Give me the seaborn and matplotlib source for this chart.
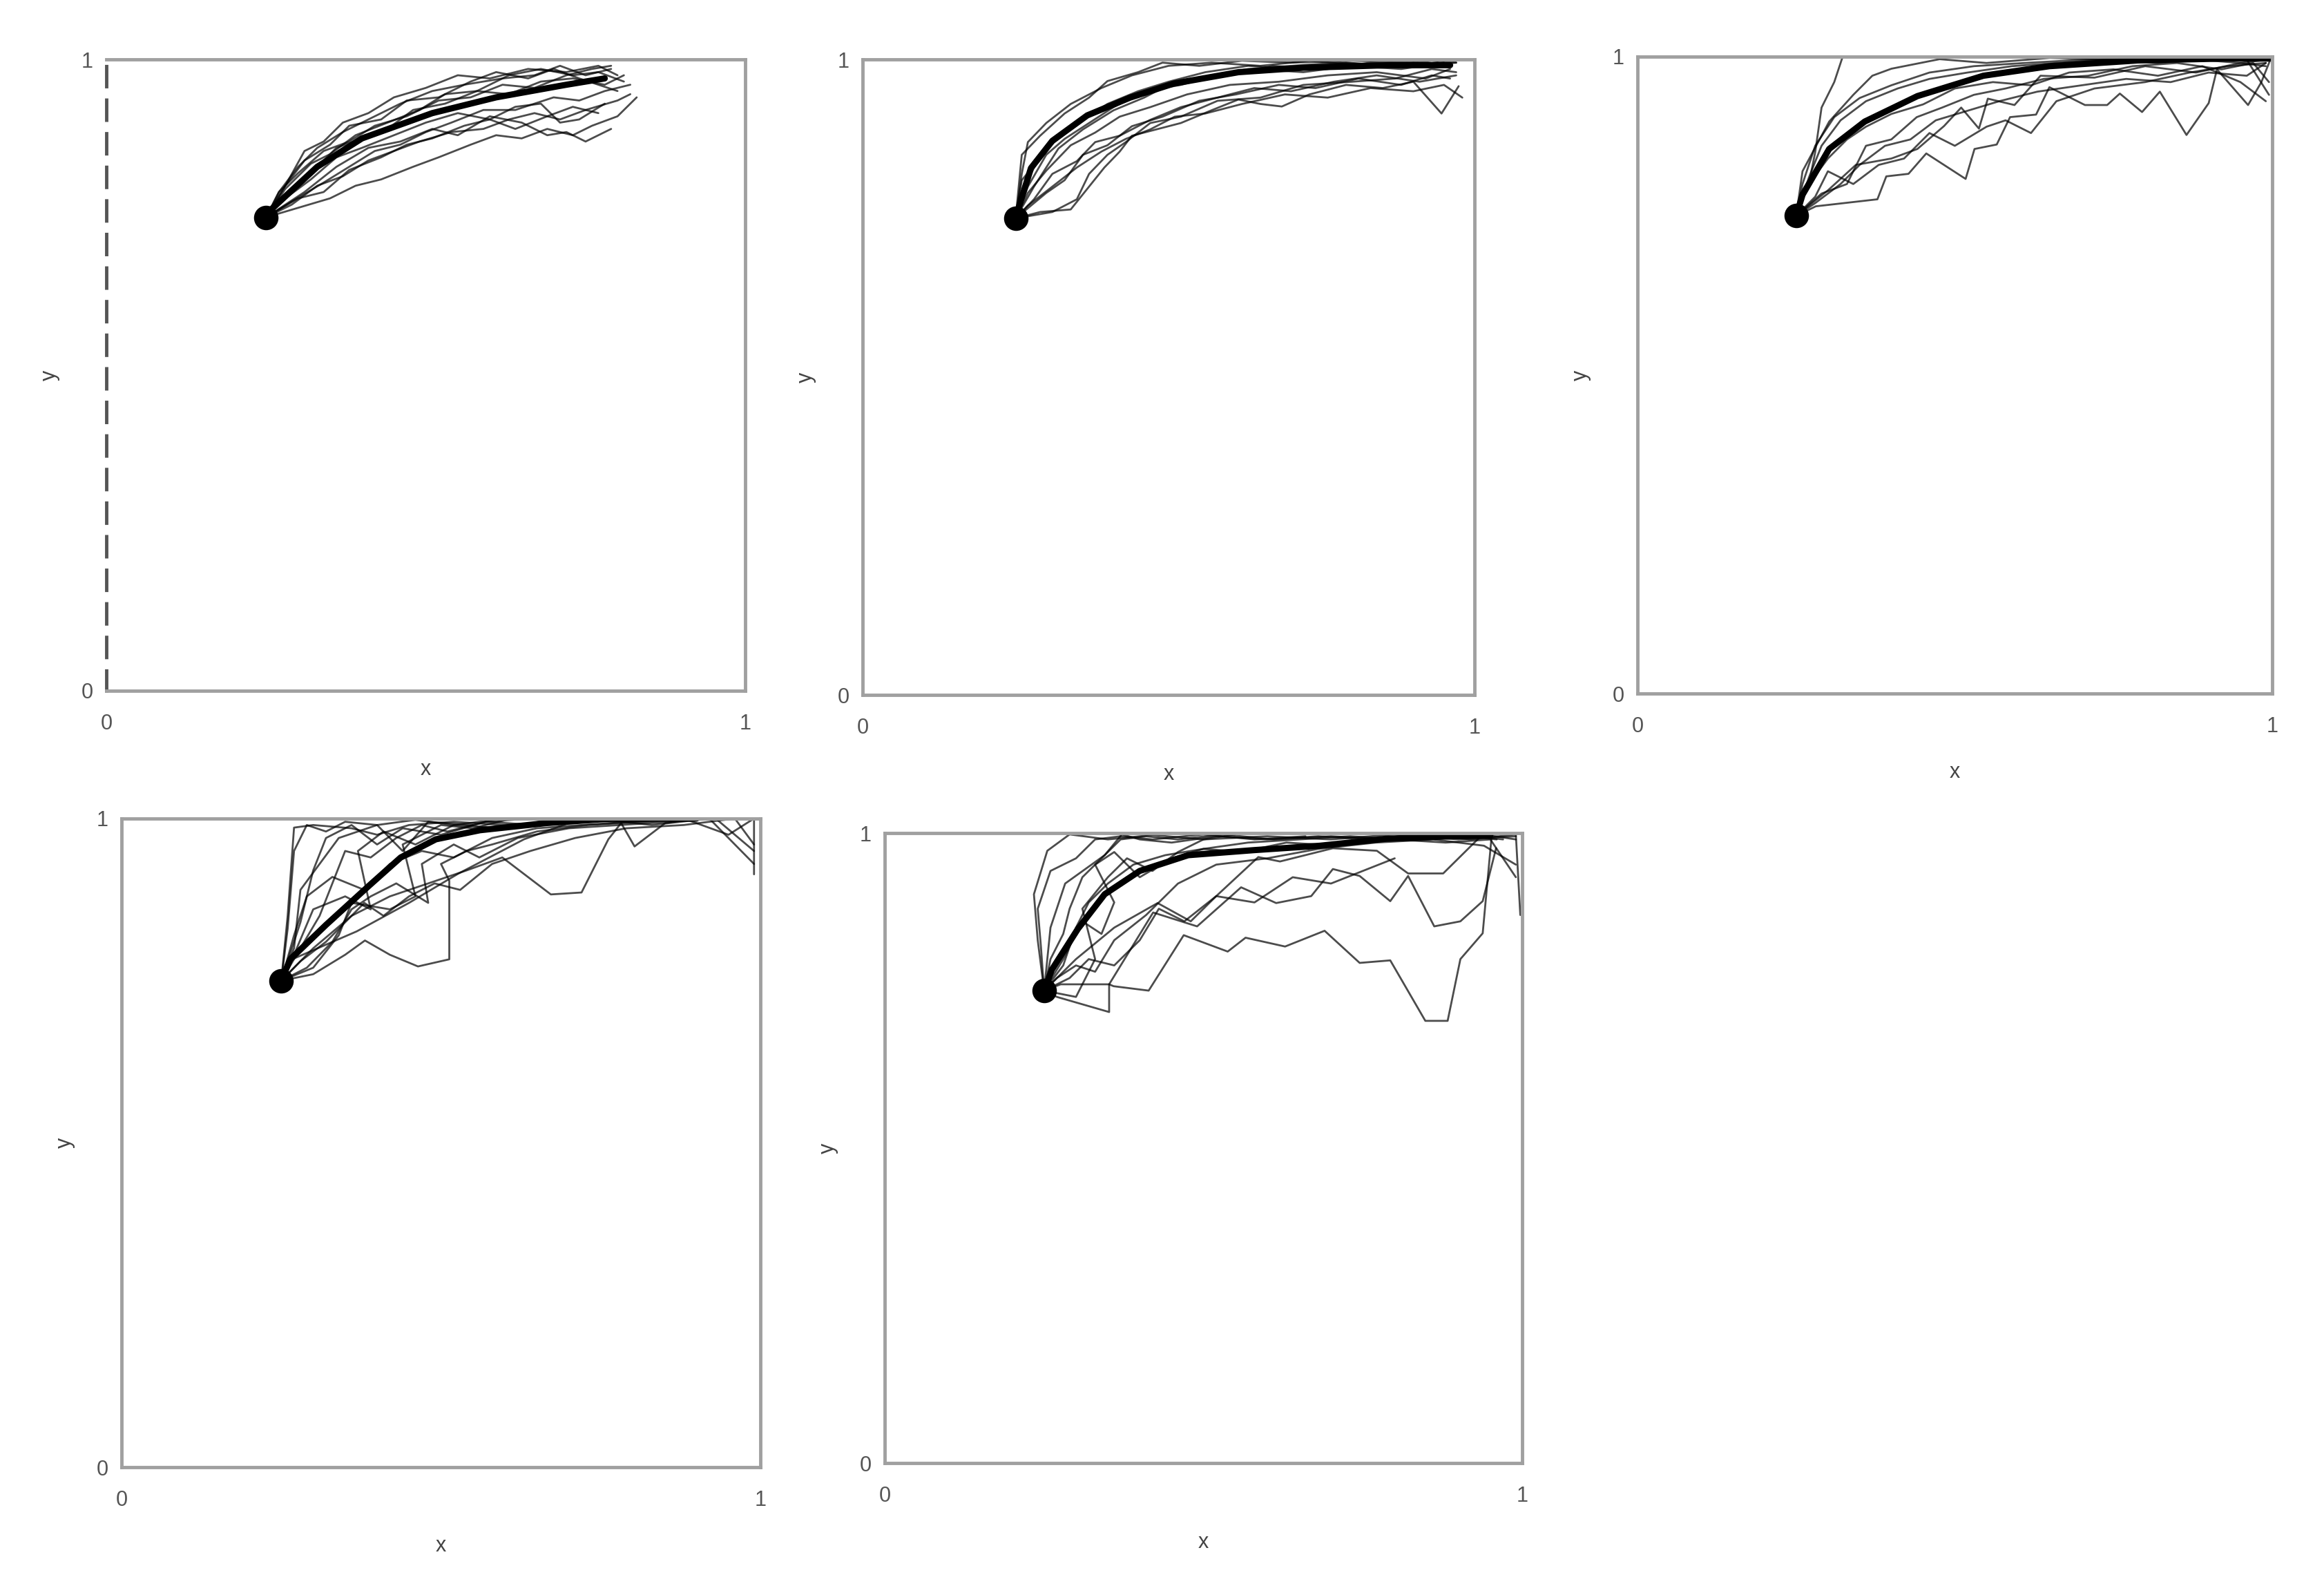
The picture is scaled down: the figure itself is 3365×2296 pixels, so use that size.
import pandas as pd
import matplotlib.pyplot as plt
import seaborn as sns

sns.set_theme(style="white")
plt.rcParams['font.family'] = ['Liberation Sans', 'DejaVu Sans']

# start point shared by every panel
start_x = 0.25
start_y = 0.75

# ---- panel 1 ----
p1_mean_x = [0.25, 0.33, 0.40, 0.51, 0.61, 0.72, 0.78]
p1_mean_y = [0.755, 0.83, 0.875, 0.915, 0.94, 0.96, 0.97]
p1_x = [
    [0.25, 0.28, 0.31, 0.34, 0.37, 0.41, 0.45, 0.50, 0.55, 0.60, 0.66, 0.72, 0.77, 0.80],
    [0.25, 0.29, 0.33, 0.36, 0.40, 0.44, 0.48, 0.53, 0.58, 0.63, 0.68, 0.73, 0.78, 0.81],
    [0.25, 0.30, 0.35, 0.39, 0.43, 0.48, 0.52, 0.57, 0.61, 0.65, 0.69, 0.73, 0.76, 0.80, 0.83],
    [0.25, 0.28, 0.32, 0.36, 0.40, 0.45, 0.50, 0.55, 0.60, 0.64, 0.68, 0.71, 0.74, 0.78],
    [0.25, 0.27, 0.30, 0.33, 0.37, 0.42, 0.46, 0.51, 0.56, 0.62, 0.67, 0.71, 0.75, 0.79],
    [0.25, 0.29, 0.34, 0.38, 0.42, 0.46, 0.50, 0.54, 0.59, 0.64, 0.70, 0.74, 0.78, 0.82],
    [0.25, 0.31, 0.36, 0.41, 0.46, 0.51, 0.55, 0.60, 0.65, 0.69, 0.72, 0.75, 0.79],
    [0.25, 0.28, 0.31, 0.35, 0.38, 0.43, 0.47, 0.52, 0.57, 0.61, 0.66, 0.70, 0.74, 0.80],
    [0.25, 0.27, 0.30, 0.34, 0.38, 0.42, 0.47, 0.52, 0.57, 0.62, 0.67, 0.72, 0.76, 0.79],
    [0.25, 0.29, 0.33, 0.37, 0.41, 0.45, 0.49, 0.54, 0.59, 0.63, 0.67, 0.71, 0.75, 0.80, 0.82],
    [0.25, 0.28, 0.32, 0.35, 0.39, 0.44, 0.49, 0.53, 0.58, 0.63, 0.68, 0.73, 0.77, 0.81],
    [0.25, 0.30, 0.34, 0.38, 0.43, 0.47, 0.51, 0.56, 0.60, 0.64, 0.69, 0.73, 0.77],
]
p1_y = [
    [0.75, 0.80, 0.855, 0.87, 0.90, 0.915, 0.94, 0.955, 0.975, 0.97, 0.985, 0.98, 0.99, 0.975],
    [0.75, 0.79, 0.83, 0.86, 0.875, 0.89, 0.92, 0.93, 0.95, 0.945, 0.965, 0.97, 0.96, 0.975],
    [0.75, 0.765, 0.78, 0.80, 0.81, 0.83, 0.845, 0.865, 0.88, 0.875, 0.89, 0.88, 0.895, 0.91, 0.94],
    [0.75, 0.78, 0.81, 0.845, 0.86, 0.88, 0.90, 0.915, 0.905, 0.925, 0.93, 0.90, 0.905, 0.93],
    [0.75, 0.79, 0.83, 0.86, 0.885, 0.91, 0.93, 0.95, 0.96, 0.97, 0.975, 0.99, 0.975, 0.985],
    [0.75, 0.775, 0.805, 0.83, 0.855, 0.865, 0.885, 0.90, 0.92, 0.92, 0.94, 0.935, 0.95, 0.96],
    [0.75, 0.79, 0.83, 0.86, 0.87, 0.89, 0.88, 0.91, 0.90, 0.88, 0.885, 0.87, 0.89],
    [0.75, 0.80, 0.84, 0.865, 0.895, 0.905, 0.935, 0.94, 0.965, 0.98, 0.97, 0.985, 0.97, 0.95],
    [0.75, 0.79, 0.82, 0.855, 0.87, 0.895, 0.91, 0.935, 0.94, 0.96, 0.955, 0.975, 0.985, 0.99],
    [0.75, 0.77, 0.80, 0.815, 0.84, 0.855, 0.87, 0.885, 0.89, 0.905, 0.915, 0.905, 0.92, 0.935, 0.945],
    [0.75, 0.795, 0.835, 0.85, 0.88, 0.90, 0.92, 0.945, 0.95, 0.975, 0.985, 0.975, 0.98, 0.965],
    [0.75, 0.78, 0.79, 0.825, 0.845, 0.865, 0.875, 0.895, 0.905, 0.89, 0.91, 0.925, 0.915],
]

# ---- panel 2 ----
p2_mean_x = [0.25, 0.254, 0.275, 0.31, 0.367, 0.437, 0.508, 0.614, 0.72, 0.86, 0.96]
p2_mean_y = [0.75, 0.764, 0.829, 0.872, 0.912, 0.94, 0.962, 0.98, 0.987, 0.991, 0.991]
p2_x = [
    [0.25, 0.255, 0.26, 0.29, 0.33, 0.37, 0.40, 0.45, 0.49, 0.55, 0.62, 0.70, 0.80, 0.90, 0.96],
    [0.25, 0.27, 0.30, 0.33, 0.37, 0.41, 0.46, 0.52, 0.58, 0.64, 0.72, 0.80, 0.88, 0.95],
    [0.25, 0.29, 0.34, 0.37, 0.395, 0.42, 0.44, 0.48, 0.52, 0.57, 0.614, 0.65, 0.685, 0.73, 0.79, 0.85, 0.90, 0.946, 0.974],
    [0.25, 0.28, 0.31, 0.35, 0.38, 0.42, 0.47, 0.52, 0.58, 0.64, 0.70, 0.77, 0.84, 0.91, 0.97],
    [0.25, 0.26, 0.28, 0.30, 0.34, 0.38, 0.43, 0.48, 0.54, 0.60, 0.67, 0.75, 0.83, 0.92, 0.97],
    [0.25, 0.30, 0.33, 0.36, 0.40, 0.44, 0.49, 0.55, 0.61, 0.68, 0.74, 0.81, 0.88, 0.93, 0.96],
    [0.25, 0.27, 0.31, 0.35, 0.39, 0.43, 0.47, 0.51, 0.56, 0.62, 0.69, 0.76, 0.83, 0.90, 0.95, 0.98],
    [0.25, 0.26, 0.29, 0.32, 0.36, 0.40, 0.45, 0.50, 0.56, 0.63, 0.71, 0.79, 0.87, 0.94],
    [0.25, 0.26, 0.27, 0.30, 0.34, 0.39, 0.44, 0.50, 0.57, 0.65, 0.73, 0.82, 0.90, 0.96],
    [0.25, 0.31, 0.35, 0.37, 0.40, 0.43, 0.47, 0.52, 0.58, 0.65, 0.72, 0.80, 0.87, 0.93, 0.97],
    [0.25, 0.28, 0.32, 0.36, 0.41, 0.46, 0.51, 0.57, 0.63, 0.70, 0.78, 0.86, 0.93, 0.97],
    [0.25, 0.27, 0.30, 0.34, 0.38, 0.42, 0.47, 0.53, 0.60, 0.68, 0.76, 0.84, 0.92, 0.96],
]
p2_y = [
    [0.75, 0.80, 0.85, 0.88, 0.915, 0.94, 0.966, 0.98, 0.995, 0.99, 0.998, 0.995, 0.998, 0.995, 0.99],
    [0.75, 0.80, 0.85, 0.875, 0.90, 0.925, 0.95, 0.96, 0.975, 0.985, 0.98, 0.99, 0.985, 0.995],
    [0.75, 0.76, 0.764, 0.80, 0.83, 0.855, 0.88, 0.89, 0.90, 0.92, 0.937, 0.93, 0.926, 0.945, 0.96, 0.955, 0.965, 0.915, 0.958],
    [0.75, 0.78, 0.82, 0.84, 0.87, 0.88, 0.905, 0.925, 0.94, 0.955, 0.95, 0.965, 0.975, 0.965, 0.975],
    [0.75, 0.79, 0.83, 0.86, 0.89, 0.92, 0.935, 0.955, 0.97, 0.975, 0.99, 0.985, 0.995, 0.99, 0.995],
    [0.75, 0.79, 0.81, 0.85, 0.865, 0.895, 0.91, 0.935, 0.945, 0.96, 0.955, 0.97, 0.96, 0.975, 0.97],
    [0.75, 0.77, 0.80, 0.83, 0.855, 0.875, 0.89, 0.91, 0.915, 0.93, 0.945, 0.94, 0.955, 0.95, 0.96, 0.94],
    [0.75, 0.81, 0.845, 0.88, 0.905, 0.93, 0.95, 0.965, 0.98, 0.99, 0.985, 0.995, 0.99, 0.995],
    [0.75, 0.82, 0.87, 0.90, 0.93, 0.955, 0.975, 0.99, 0.995, 0.99, 0.998, 0.99, 0.995, 0.99],
    [0.75, 0.76, 0.78, 0.82, 0.85, 0.87, 0.90, 0.91, 0.935, 0.94, 0.96, 0.965, 0.97, 0.985, 0.98],
    [0.75, 0.80, 0.86, 0.89, 0.92, 0.94, 0.965, 0.975, 0.985, 0.99, 0.995, 0.99, 0.998, 0.995],
    [0.75, 0.79, 0.825, 0.865, 0.885, 0.91, 0.925, 0.945, 0.96, 0.965, 0.975, 0.98, 0.97, 0.985],
]

# ---- panel 3 ----
p3_mean_x = [0.25, 0.26, 0.302, 0.358, 0.441, 0.545, 0.649, 0.788, 0.927, 0.996]
p3_mean_y = [0.75, 0.783, 0.855, 0.898, 0.938, 0.97, 0.985, 0.994, 0.997, 0.997]
p3_x = [
    [0.25, 0.27, 0.28, 0.29, 0.30, 0.31, 0.323],
    [0.25, 0.281, 0.378, 0.392, 0.427, 0.455, 0.517, 0.531, 0.566, 0.587, 0.628, 0.649, 0.705, 0.74, 0.76, 0.795, 0.823, 0.865, 0.90, 0.913, 0.962, 0.983, 0.997],
    [0.25, 0.30, 0.344, 0.40, 0.441, 0.483, 0.51, 0.538, 0.552, 0.594, 0.635, 0.72, 0.80, 0.88, 0.95, 0.99],
    [0.25, 0.26, 0.302, 0.34, 0.37, 0.40, 0.476, 0.55, 0.65, 0.75, 0.85, 0.95, 0.99],
    [0.25, 0.27, 0.30, 0.33, 0.36, 0.40, 0.45, 0.50, 0.56, 0.62, 0.68, 0.75, 0.82, 0.89, 0.95, 0.99],
    [0.25, 0.28, 0.32, 0.35, 0.39, 0.43, 0.47, 0.52, 0.57, 0.63, 0.70, 0.77, 0.84, 0.90, 0.96, 0.99],
    [0.25, 0.29, 0.33, 0.36, 0.40, 0.44, 0.48, 0.53, 0.58, 0.64, 0.71, 0.78, 0.85, 0.92, 0.97, 0.995],
    [0.25, 0.27, 0.29, 0.32, 0.36, 0.41, 0.46, 0.52, 0.59, 0.66, 0.74, 0.82, 0.90, 0.96, 0.995],
    [0.25, 0.28, 0.30, 0.34, 0.38, 0.42, 0.46, 0.50, 0.55, 0.58, 0.62, 0.66, 0.72, 0.80, 0.87, 0.93, 0.99],
    [0.25, 0.26, 0.28, 0.31, 0.35, 0.40, 0.46, 0.53, 0.61, 0.70, 0.80, 0.90, 0.98],
]
p3_y = [
    [0.75, 0.80, 0.85, 0.92, 0.94, 0.96, 0.999],
    [0.75, 0.765, 0.776, 0.812, 0.816, 0.848, 0.808, 0.855, 0.862, 0.905, 0.909, 0.952, 0.924, 0.924, 0.942, 0.913, 0.945, 0.877, 0.927, 0.98, 0.924, 0.96, 0.995],
    [0.75, 0.79, 0.83, 0.84, 0.855, 0.891, 0.92, 0.887, 0.934, 0.924, 0.97, 0.967, 0.985, 0.975, 0.99, 0.985],
    [0.75, 0.82, 0.898, 0.94, 0.97, 0.981, 0.996, 0.99, 0.998, 0.995, 0.998, 0.99, 0.995],
    [0.75, 0.80, 0.84, 0.87, 0.89, 0.91, 0.925, 0.95, 0.96, 0.955, 0.975, 0.98, 0.97, 0.985, 0.96, 0.93],
    [0.75, 0.77, 0.80, 0.83, 0.86, 0.87, 0.90, 0.915, 0.93, 0.945, 0.955, 0.965, 0.96, 0.975, 0.97, 0.99],
    [0.75, 0.785, 0.80, 0.86, 0.87, 0.905, 0.92, 0.94, 0.95, 0.965, 0.97, 0.985, 0.99, 0.98, 0.99, 0.96],
    [0.75, 0.81, 0.86, 0.90, 0.93, 0.95, 0.965, 0.975, 0.985, 0.99, 0.995, 0.99, 0.998, 0.995, 0.94],
    [0.75, 0.78, 0.82, 0.80, 0.83, 0.84, 0.88, 0.86, 0.89, 0.90, 0.88, 0.93, 0.95, 0.96, 0.975, 0.985, 0.99],
    [0.75, 0.80, 0.86, 0.905, 0.935, 0.955, 0.975, 0.985, 0.99, 0.995, 0.998, 0.995, 0.998],
]

# ---- panel 4 ----
p4_mean_x = [0.25, 0.264, 0.32, 0.388, 0.437, 0.492, 0.561, 0.665, 0.769, 0.90]
p4_mean_y = [0.75, 0.783, 0.836, 0.897, 0.94, 0.968, 0.982, 0.993, 1.0, 1.0]
p4_x = [
    [0.25, 0.26, 0.368, 0.45, 0.527, 0.63, 0.70],
    [0.25, 0.26, 0.27, 0.30, 0.36, 0.40, 0.45, 0.52, 0.60, 0.70, 0.80, 0.90],
    [0.25, 0.27, 0.28, 0.31, 0.34, 0.40, 0.44, 0.48, 0.55],
    [0.25, 0.30, 0.35, 0.381, 0.42, 0.464, 0.513, 0.513, 0.50, 0.54, 0.58, 0.65, 0.73, 0.82, 0.90],
    [0.25, 0.30, 0.36, 0.42, 0.48, 0.54, 0.596, 0.672, 0.72, 0.762, 0.782, 0.803, 0.851, 0.90],
    [0.25, 0.27, 0.29, 0.33, 0.38, 0.42, 0.47, 0.52, 0.58, 0.65, 0.72, 0.80, 0.88, 0.95, 0.99, 0.99],
    [0.25, 0.29, 0.33, 0.36, 0.39, 0.43, 0.48, 0.47, 0.52, 0.56, 0.62, 0.70, 0.78, 0.86, 0.93, 0.99],
    [0.25, 0.28, 0.30, 0.32, 0.36, 0.40, 0.44, 0.50, 0.57, 0.65, 0.74, 0.83, 0.92, 0.99],
    [0.25, 0.28, 0.32, 0.35, 0.38, 0.41, 0.45, 0.49, 0.53, 0.58, 0.64, 0.71, 0.79, 0.88, 0.96, 0.99],
    [0.25, 0.27, 0.30, 0.35, 0.39, 0.37, 0.41, 0.46, 0.52, 0.60, 0.68, 0.77, 0.85],
    [0.25, 0.26, 0.27, 0.29, 0.32, 0.35, 0.40, 0.46, 0.52, 0.60],
    [0.25, 0.28, 0.31, 0.33, 0.35, 0.39, 0.43, 0.47, 0.51, 0.57, 0.64],
    [0.25, 0.30, 0.34, 0.36, 0.42, 0.46, 0.44, 0.50, 0.55, 0.61],
]
p4_y = [
    [0.75, 0.78, 0.826, 0.87, 0.915, 0.968, 0.993],
    [0.75, 0.85, 0.986, 0.99, 0.985, 0.975, 0.99, 0.995, 0.99, 0.995, 0.998, 0.998],
    [0.75, 0.80, 0.89, 0.93, 0.97, 0.99, 0.95, 0.995, 0.99],
    [0.75, 0.76, 0.79, 0.812, 0.79, 0.772, 0.783, 0.904, 0.93, 0.95, 0.96, 0.98, 0.99, 0.995, 1.0],
    [0.75, 0.80, 0.85, 0.88, 0.90, 0.92, 0.94, 0.883, 0.886, 0.968, 0.993, 0.957, 0.993, 1.0],
    [0.75, 0.82, 0.88, 0.91, 0.89, 0.93, 0.95, 0.94, 0.97, 0.985, 0.99, 0.995, 1.0, 0.975, 1.0, 0.914],
    [0.75, 0.77, 0.81, 0.86, 0.88, 0.90, 0.87, 0.93, 0.96, 0.94, 0.97, 0.985, 0.99, 0.995, 1.0, 0.95],
    [0.75, 0.84, 0.92, 0.97, 0.99, 0.96, 0.985, 0.975, 0.995, 0.99, 1.0, 0.99, 1.0, 0.93],
    [0.75, 0.78, 0.81, 0.84, 0.87, 0.85, 0.88, 0.90, 0.89, 0.93, 0.95, 0.97, 0.985, 0.99, 1.0, 0.96],
    [0.75, 0.79, 0.86, 0.88, 0.86, 0.95, 0.98, 0.96, 0.99, 0.985, 1.0, 0.995, 1.0],
    [0.75, 0.83, 0.95, 0.99, 0.98, 0.995, 0.99, 0.998, 0.99, 1.0],
    [0.75, 0.80, 0.85, 0.90, 0.95, 0.94, 0.97, 0.99, 0.98, 0.995, 1.0],
    [0.75, 0.77, 0.82, 0.87, 0.86, 0.88, 0.96, 0.99, 0.985, 1.0],
]

# ---- panel 5 ----
p5_mean_x = [0.25, 0.262, 0.303, 0.345, 0.40, 0.476, 0.579, 0.683, 0.786, 0.89, 0.95]
p5_mean_y = [0.75, 0.783, 0.848, 0.903, 0.94, 0.965, 0.973, 0.98, 0.991, 0.995, 0.997]
p5_x = [
    [0.25, 0.276, 0.352, 0.359, 0.414, 0.469, 0.538, 0.566, 0.628, 0.69, 0.745, 0.793, 0.848, 0.883, 0.903, 0.938, 0.952],
    [0.25, 0.27, 0.352, 0.352, 0.421, 0.49, 0.559, 0.614, 0.669, 0.703, 0.745, 0.793, 0.821, 0.862, 0.903, 0.938, 0.959],
    [0.25, 0.30, 0.36, 0.428, 0.48, 0.52, 0.586, 0.62, 0.703, 0.772, 0.821, 0.876, 0.938, 0.99],
    [0.25, 0.24, 0.234, 0.255, 0.29, 0.35, 0.42, 0.50, 0.60, 0.70, 0.80, 0.90, 0.99],
    [0.25, 0.26, 0.283, 0.345, 0.372, 0.40, 0.45, 0.52, 0.60, 0.68, 0.76, 0.84, 0.92, 0.99, 0.997],
    [0.25, 0.28, 0.31, 0.34, 0.36, 0.33, 0.36, 0.40, 0.45, 0.50, 0.56, 0.63, 0.71, 0.80, 0.88, 0.95, 0.99],
    [0.25, 0.27, 0.30, 0.33, 0.36, 0.41, 0.46, 0.52, 0.60, 0.68, 0.77, 0.86, 0.94, 0.99],
    [0.25, 0.26, 0.28, 0.29, 0.31, 0.34, 0.37, 0.41, 0.46, 0.53, 0.61, 0.70, 0.79, 0.88, 0.96],
    [0.25, 0.29, 0.32, 0.36, 0.40, 0.43, 0.47, 0.52, 0.58, 0.64, 0.70, 0.75, 0.80],
    [0.25, 0.245, 0.24, 0.26, 0.30, 0.33, 0.37, 0.42, 0.50, 0.58, 0.66],
    [0.25, 0.30, 0.33, 0.31, 0.35, 0.38, 0.42, 0.46, 0.50, 0.55],
    [0.25, 0.28, 0.30, 0.32, 0.35, 0.39, 0.44, 0.50, 0.57, 0.65, 0.73, 0.81, 0.90, 0.97],
]
p5_y = [
    [0.75, 0.76, 0.76, 0.757, 0.75, 0.838, 0.812, 0.834, 0.82, 0.845, 0.794, 0.798, 0.702, 0.702, 0.80, 0.841, 0.995],
    [0.75, 0.74, 0.716, 0.76, 0.874, 0.852, 0.914, 0.889, 0.90, 0.943, 0.932, 0.892, 0.932, 0.852, 0.86, 0.892, 0.976],
    [0.75, 0.80, 0.85, 0.889, 0.86, 0.90, 0.962, 0.955, 0.976, 0.972, 0.936, 0.936, 0.998, 0.99],
    [0.75, 0.83, 0.903, 0.972, 0.998, 0.99, 0.997, 0.99, 0.995, 0.99, 0.998, 0.99, 0.995],
    [0.75, 0.85, 0.92, 0.965, 0.998, 0.99, 0.985, 0.995, 0.99, 0.995, 0.99, 0.998, 0.99, 0.998, 0.87],
    [0.75, 0.80, 0.86, 0.84, 0.89, 0.95, 0.97, 0.93, 0.96, 0.975, 0.97, 0.985, 0.98, 0.99, 0.985, 0.99, 0.93],
    [0.75, 0.77, 0.79, 0.78, 0.83, 0.87, 0.92, 0.95, 0.96, 0.975, 0.985, 0.99, 0.98, 0.95],
    [0.75, 0.80, 0.84, 0.88, 0.93, 0.96, 0.99, 0.995, 0.99, 0.998, 0.99, 0.995, 0.99, 0.998, 0.99],
    [0.75, 0.77, 0.80, 0.79, 0.83, 0.88, 0.86, 0.90, 0.89, 0.93, 0.92, 0.94, 0.96],
    [0.75, 0.82, 0.88, 0.94, 0.96, 0.99, 0.995, 0.99, 0.998, 0.99, 0.995],
    [0.75, 0.74, 0.80, 0.88, 0.93, 0.96, 0.94, 0.97, 0.99, 0.998],
    [0.75, 0.79, 0.85, 0.89, 0.92, 0.95, 0.965, 0.975, 0.985, 0.99, 0.995, 0.99, 0.998, 0.99],
]

panels = [
    (p1_x, p1_y, p1_mean_x, p1_mean_y),
    (p2_x, p2_y, p2_mean_x, p2_mean_y),
    (p3_x, p3_y, p3_mean_x, p3_mean_y),
    (p4_x, p4_y, p4_mean_x, p4_mean_y),
    (p5_x, p5_y, p5_mean_x, p5_mean_y),
]

# axes boxes in figure fractions [left, bottom, width, height]
boxes = [
    [0.0458, 0.5645, 0.2749, 0.3980],
    [0.3712, 0.5618, 0.2633, 0.4007],
    [0.7046, 0.5627, 0.2731, 0.4016],
    [0.0523, 0.0749, 0.2749, 0.4090],
    [0.3807, 0.0775, 0.2743, 0.3972],
]

fig = plt.figure(figsize=(33.65, 22.96), dpi=100)

for i, (xs, ys, mx, my) in enumerate(panels):
    ax = fig.add_axes(boxes[i])
    rows = []
    for k in range(len(xs)):
        for j in range(len(xs[k])):
            rows.append({"traj": k, "step": j, "x": xs[k][j], "y": ys[k][j]})
    df = pd.DataFrame(rows)
    sns.lineplot(data=df, x="x", y="y", units="traj", estimator=None, sort=False,
                 color="black", linewidth=2, alpha=0.7, ax=ax, legend=False)
    mean_df = pd.DataFrame({"x": mx, "y": my})
    sns.lineplot(data=mean_df, x="x", y="y", estimator=None, sort=False,
                 color="black", linewidth=6.5, ax=ax, legend=False)
    sns.scatterplot(x=[start_x], y=[start_y], color="black", s=560, ax=ax,
                    edgecolor="black", zorder=5, legend=False)

    ax.set_xlim(0, 1)
    ax.set_ylim(0, 1)
    ax.set_xticks([0, 1])
    ax.set_yticks([0, 1])
    ax.set_xticklabels(["0", "1"])
    ax.set_yticklabels(["0", "1"])
    ax.tick_params(axis="x", length=0, pad=24, labelsize=22, labelcolor="#555555")
    ax.tick_params(axis="y", length=0, pad=14, labelsize=22, labelcolor="#555555")
    ax.set_xlabel("x", fontsize=22, color="#444444", labelpad=26)
    ax.set_ylabel("y", fontsize=22, color="#444444", labelpad=22)
    for side in ["left", "right", "top", "bottom"]:
        ax.spines[side].set_visible(True)
        ax.spines[side].set_color("#a0a0a0")
        ax.spines[side].set_linewidth(3.5)
    if i == 0:
        # first panel's left edge is drawn as a dark dashed line
        ax.spines["left"].set_color("#555555")
        ax.spines["left"].set_linestyle((0, (6, 4)))

fig.savefig("out.png", dpi=100, facecolor="white")
